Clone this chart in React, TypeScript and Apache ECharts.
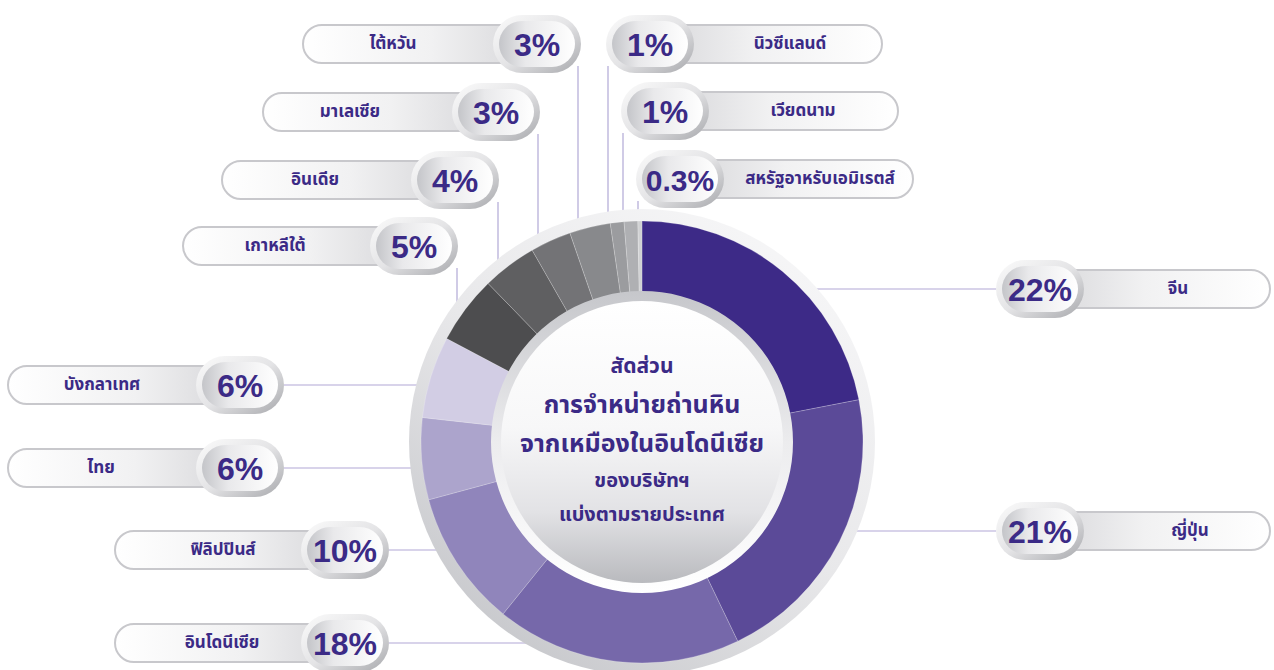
import React, { useEffect, useRef } from "react";
import * as echarts from "echarts";

// ---- data ----
const countries = [
  "จีน",
  "ญี่ปุ่น",
  "อินโดนีเซีย",
  "ฟิลิปปินส์",
  "ไทย",
  "บังกลาเทศ",
  "เกาหลีใต้",
  "อินเดีย",
  "มาเลเซีย",
  "ไต้หวัน",
  "นิวซีแลนด์",
  "เวียดนาม",
  "สหรัฐอาหรับเอมิเรตส์",
];
const shares = [22, 21, 18, 10, 6, 6, 5, 4, 3, 3, 1, 1, 0.3];
const sliceColors = [
  "#3d2a87",
  "#5b4a98",
  "#7668aa",
  "#9085bb",
  "#aca4cc",
  "#d2cde4",
  "#4d4d4f",
  "#5f5f61",
  "#737376",
  "#88898c",
  "#9b9c9f",
  "#afb0b3",
  "#d0d1d3",
];
const centerTitle = [
  "สัดส่วน",
  "การจำหน่ายถ่านหิน",
  "จากเหมืองในอินโดนีเซีย",
  "ของบริษัทฯ",
  "แบ่งตามรายประเทศ",
];

// ---- layout of the callouts (same order as countries) ----
type Callout = {
  side: "L" | "R";
  bx: number;
  by: number;
  pillEdge: number;
  textX: number;
  line: "H" | "V";
  lineX?: number;
};
const callouts: Callout[] = [
  { side: "R", bx: 1040, by: 289, pillEdge: 1270, textX: 1178, line: "H" },
  { side: "R", bx: 1040, by: 531, pillEdge: 1270, textX: 1190, line: "H" },
  { side: "L", bx: 345, by: 643, pillEdge: 115, textX: 222, line: "H" },
  { side: "L", bx: 345, by: 550, pillEdge: 115, textX: 223, line: "H" },
  { side: "L", bx: 240, by: 468, pillEdge: 8, textX: 101, line: "H" },
  { side: "L", bx: 240, by: 385, pillEdge: 8, textX: 102, line: "H" },
  { side: "L", bx: 414, by: 246, pillEdge: 183, textX: 275, line: "V", lineX: 457 },
  { side: "L", bx: 455, by: 180, pillEdge: 222, textX: 315, line: "V", lineX: 498 },
  { side: "L", bx: 496, by: 112, pillEdge: 263, textX: 350, line: "V", lineX: 538 },
  { side: "L", bx: 537, by: 44, pillEdge: 303, textX: 393, line: "V", lineX: 578 },
  { side: "R", bx: 650, by: 44, pillEdge: 882, textX: 790, line: "V", lineX: 608 },
  { side: "R", bx: 665, by: 111, pillEdge: 898, textX: 803, line: "V", lineX: 623 },
  { side: "R", bx: 680, by: 179, pillEdge: 913, textX: 820, line: "V", lineX: 638 },
];

const CX = 642;
const CY = 442;
const PURPLE = "#3b2a86";
const FONT = "'Noto Sans Thai', 'Noto Sans Thai UI', 'Noto Sans', 'DejaVu Sans', sans-serif";
const NUM_FONT = "'Liberation Sans', Arial, Helvetica, sans-serif";
const LINE = "#b1a8d6";

function lin(x: number, y: number, x2: number, y2: number, stops: [number, string][]) {
  return new echarts.graphic.LinearGradient(
    x,
    y,
    x2,
    y2,
    stops.map(([offset, color]) => ({ offset, color }))
  );
}

function buildGraphics() {
  const els: any[] = [];
  // leader lines (under everything)
  callouts.forEach((c) => {
    if (c.line === "H") {
      const x0 = c.side === "L" ? c.bx + 44 : c.bx - 44;
      els.push({
        type: "line",
        z: 0,
        shape: { x1: x0, y1: c.by, x2: CX, y2: c.by },
        style: { stroke: LINE, lineWidth: 1.2 },
        silent: true,
      });
    } else {
      els.push({
        type: "line",
        z: 0,
        shape: { x1: c.lineX, y1: c.by + 22, x2: c.lineX, y2: CY },
        style: { stroke: LINE, lineWidth: 1.2 },
        silent: true,
      });
    }
  });
  // outer grey ring behind donut
  els.push({
    type: "circle",
    z: 1,
    shape: { cx: CX, cy: CY, r: 233 },
    style: {
      fill: lin(0.85, 0, 0.15, 1, [
        [0, "#f8f8f9"],
        [0.5, "#e8e8ea"],
        [1, "#c3c4c8"],
      ]),
    },
    silent: true,
  });
  // center disc
  els.push({
    type: "circle",
    z: 10,
    shape: { cx: CX, cy: CY, r: 151 },
    style: {
      fill: lin(0, 0, 0, 1, [
        [0, "#c6c7cb"],
        [0.5, "#ececee"],
        [1, "#ffffff"],
      ]),
    },
    silent: true,
  });
  els.push({
    type: "circle",
    z: 10,
    z2: 1,
    shape: { cx: CX, cy: CY, r: 141 },
    style: {
      fill: lin(0, 0, 0, 1, [
        [0, "#ffffff"],
        [0.45, "#f7f7f8"],
        [0.75, "#e2e2e5"],
        [1, "#b9babe"],
      ]),
    },
    silent: true,
  });
  const titleY = [366, 405, 444, 481, 515];
  const titleSize = [21, 25, 25, 20, 20];
  centerTitle.forEach((t, i) => {
    els.push({
      type: "text",
      z: 11,
      x: CX,
      y: titleY[i],
      style: {
        text: t,
        fill: PURPLE,
        font: `bold ${titleSize[i]}px ${FONT}`,
        align: "center",
        verticalAlign: "middle",
      },
      silent: true,
    });
  });

  // callouts
  callouts.forEach((c, i) => {
    const ph = 38;
    const left = c.side === "L";
    const px = left ? c.pillEdge : c.bx;
    const pw = left ? c.bx - c.pillEdge : c.pillEdge - c.bx;
    els.push({
      type: "rect",
      z: 3,
      shape: { x: px, y: c.by - ph / 2, width: pw, height: ph, r: ph / 2 },
      style: {
        fill: left
          ? lin(0, 0, 1, 0, [
              [0, "#ffffff"],
              [0.55, "#f1f1f2"],
              [1, "#d6d6d9"],
            ])
          : lin(0, 0, 1, 0, [
              [0, "#d6d6d9"],
              [0.45, "#f1f1f2"],
              [1, "#ffffff"],
            ]),
        stroke: "#c8c8cc",
        lineWidth: 2,
      },
      silent: true,
    });
    els.push({
      type: "text",
      z: 4,
      x: c.textX,
      y: c.by,
      style: {
        text: countries[i],
        fill: PURPLE,
        font: `bold 17px ${FONT}`,
        align: "center",
        verticalAlign: "middle",
      },
      silent: true,
    });
    // bubble
    const bw = 88;
    const bh = 58;
    els.push({
      type: "rect",
      z: 5,
      shape: { x: c.bx - bw / 2, y: c.by - bh / 2, width: bw, height: bh, r: bh / 2 },
      style: {
        fill: lin(0, 0, 1, 1, [
          [0, "#fbfbfb"],
          [0.5, "#e4e4e6"],
          [1, "#a7a8ac"],
        ]),
      },
      silent: true,
    });
    const iw = 76;
    const ih = 46;
    els.push({
      type: "rect",
      z: 5,
      z2: 1,
      shape: { x: c.bx - iw / 2, y: c.by - ih / 2, width: iw, height: ih, r: ih / 2 },
      style: {
        fill: lin(0, 0, 1, 0, [
          [0, "#c4c5c9"],
          [0.35, "#e9e9eb"],
          [1, "#ffffff"],
        ]),
      },
      silent: true,
    });
    const label = `${shares[i]}%`;
    els.push({
      type: "text",
      z: 6,
      x: c.bx,
      y: c.by + 1,
      style: {
        text: label,
        fill: PURPLE,
        font: `bold ${label.length > 3 ? 30 : 32}px ${NUM_FONT}`,
        align: "center",
        verticalAlign: "middle",
      },
      silent: true,
    });
  });
  return els;
}

export default function App() {
  const ref = useRef<HTMLDivElement>(null);
  useEffect(() => {
    document.body.style.margin = "0";
    if (!ref.current) return;
    const chart = echarts.init(ref.current, undefined, { renderer: "svg" });
    chart.setOption({
      animation: false,
      backgroundColor: "#ffffff",
      series: [
        {
          type: "pie",
          z: 2,
          center: [CX, CY],
          radius: [147, 221],
          startAngle: 90,
          clockwise: true,
          avoidLabelOverlap: false,
          label: { show: false },
          labelLine: { show: false },
          silent: true,
          itemStyle: { borderColor: "rgba(255,255,255,0.35)", borderWidth: 0.6 },
          data: countries.map((name, i) => ({
            name,
            value: shares[i],
            itemStyle: { color: sliceColors[i] },
          })),
        },
      ],
      graphic: { elements: buildGraphics() },
    });
    return () => chart.dispose();
  }, []);
  return <div ref={ref} style={{ width: 1274, height: 670 }} />;
}
